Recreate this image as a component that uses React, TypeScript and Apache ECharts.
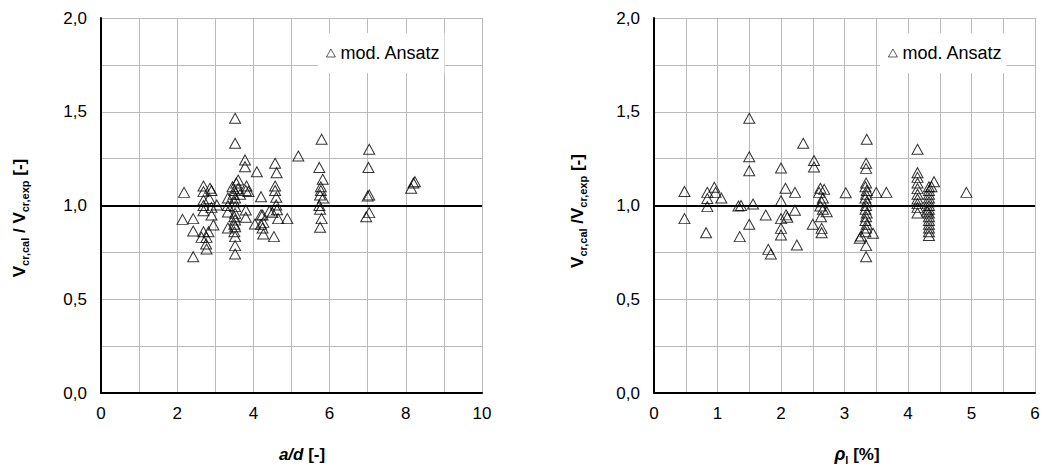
import React, { useEffect, useRef } from "react";
import * as echarts from "echarts";

// Left chart: a/d [-] vs Vcr,cal/Vcr,exp
const leftPoints: [number, number][] = [
  [2.18, 1.07], [2.14, 0.926], [2.42, 0.93], [2.42, 0.864], [2.42, 0.727],
  [2.69, 1.104], [2.69, 1.074], [2.86, 1.092], [2.9, 1.08], [2.69, 1.029], [2.84, 1.038],
  [2.69, 1.0], [2.69, 0.972], [3.04, 1.003], [2.9, 0.99], [2.9, 0.949], [2.95, 0.896],
  [2.69, 0.86], [2.82, 0.86], [2.77, 0.83], [2.76, 0.795], [2.77, 0.768], [2.64, 0.83],
  [3.33, 1.04], [3.33, 1.0], [3.33, 0.965], [3.33, 0.88],
  [3.52, 1.465], [3.52, 1.332], [3.45, 1.1], [3.5, 1.08], [3.55, 1.12], [3.48, 1.06],
  [3.52, 1.04], [3.5, 1.02], [3.52, 0.994], [3.52, 0.958], [3.5, 0.94], [3.52, 0.923],
  [3.5, 0.9], [3.52, 0.887], [3.5, 0.86], [3.52, 0.834], [3.52, 0.786], [3.52, 0.741],
  [3.6, 1.136], [3.6, 1.09], [3.65, 1.06],
  [3.78, 1.243], [3.78, 1.207], [3.82, 1.104], [3.8, 1.08], [3.87, 1.075], [3.8, 0.976], [3.8, 0.937],
  [4.09, 1.18], [4.04, 0.901], [4.2, 1.047], [4.2, 0.95], [4.2, 0.9], [4.26, 0.848],
  [4.57, 1.225], [4.61, 1.175], [4.57, 1.104], [4.57, 1.08], [4.6, 1.044], [4.6, 1.003],
  [4.62, 0.977], [4.5, 0.962], [4.42, 0.97], [4.65, 0.93], [4.89, 0.93], [4.24, 0.949],
  [4.26, 0.91], [4.24, 0.88], [4.54, 0.834],
  [5.18, 1.264],
  [5.73, 1.203], [5.82, 1.14], [5.77, 1.1], [5.75, 1.056], [5.83, 1.04], [5.73, 1.0],
  [5.75, 0.98], [5.79, 0.93], [5.75, 0.884], [5.79, 1.353], [5.77, 1.08],
  [7.04, 1.3], [7.02, 1.203], [7.04, 1.056], [7.0, 1.05], [7.04, 0.962], [6.96, 0.94],
  [8.24, 1.127], [8.2, 1.12], [8.14, 1.092],
];

// Right chart: rho_l [%] vs Vcr,cal/Vcr,exp
const rightPoints: [number, number][] = [
  [0.48, 1.075], [0.48, 0.93],
  [0.84, 1.07], [0.84, 1.037], [0.84, 0.994], [0.82, 0.855],
  [0.95, 1.097], [0.97, 1.07], [1.06, 1.04],
  [1.33, 0.997], [1.37, 1.0], [1.35, 0.834],
  [1.5, 1.465], [1.5, 1.26], [1.5, 1.185], [1.5, 0.9], [1.56, 1.008],
  [1.76, 0.949], [1.8, 0.766], [1.84, 0.741],
  [2.0, 1.2], [2.0, 1.025], [2.0, 0.93], [2.0, 0.878], [2.0, 0.843], [2.07, 1.092], [2.08, 0.95], [2.1, 0.937],
  [2.22, 1.07], [2.22, 0.975], [2.25, 0.789], [2.35, 1.332],
  [2.52, 1.24], [2.52, 1.205], [2.5, 0.9],
  [2.62, 1.092], [2.68, 1.086], [2.6, 1.07], [2.66, 1.04], [2.64, 1.02], [2.62, 0.997],
  [2.66, 0.98], [2.72, 0.967], [2.63, 0.94], [2.64, 0.878], [2.64, 0.855],
  [3.02, 1.068], [3.24, 0.825],
  [3.35, 1.353], [3.34, 1.225], [3.34, 1.198],
  [3.34, 1.12], [3.33, 1.1], [3.35, 1.08], [3.34, 1.06], [3.33, 1.04], [3.35, 1.02],
  [3.34, 1.0], [3.33, 0.98], [3.35, 0.96], [3.34, 0.94], [3.33, 0.92], [3.35, 0.9],
  [3.34, 0.88], [3.33, 0.86], [3.34, 0.786], [3.34, 0.727],
  [3.26, 0.837], [3.45, 0.852], [3.5, 1.07], [3.66, 1.07],
  [4.15, 1.3], [4.15, 1.175], [4.15, 1.15], [4.15, 1.12], [4.15, 1.09], [4.15, 1.06],
  [4.15, 1.035], [4.15, 1.01], [4.15, 0.99], [4.15, 0.96],
  [4.33, 1.1], [4.33, 1.08], [4.33, 1.06], [4.33, 1.04], [4.33, 1.02], [4.33, 1.0],
  [4.33, 0.98], [4.33, 0.96], [4.33, 0.94], [4.33, 0.92], [4.33, 0.9], [4.33, 0.88],
  [4.33, 0.86], [4.33, 0.84], [4.41, 1.127], [4.37, 1.1], [4.3, 0.97],
  [4.92, 1.07],
];

const seriesName = "mod. Ansatz";
const referenceValue = 1.0;

const FONT = "'Liberation Sans', Arial, Helvetica, sans-serif";
const GRID_COLOR = "#bababa";

function fmtComma(v: number): string {
  return v.toFixed(1).replace(".", ",");
}

export default function App() {
  const ref = useRef<HTMLDivElement>(null);

  useEffect(() => {
    document.body.style.margin = "0";
    if (!ref.current) return;
    const chart = echarts.init(ref.current, undefined, { renderer: "svg" });

    const yAxisBase = (gridIndex: number) => ({
      type: "value",
      gridIndex,
      min: 0,
      max: 2,
      interval: 0.5,
      axisLine: { show: true, lineStyle: { color: "#000", width: 2 } },
      axisTick: { show: false },
      minorTick: { show: false, splitNumber: 2 },
      splitLine: { show: true, lineStyle: { color: GRID_COLOR, width: 1 } },
      minorSplitLine: { show: true, lineStyle: { color: GRID_COLOR, width: 1 } },
      axisLabel: {
        color: "#000",
        fontSize: 17,
        fontFamily: FONT,
        margin: 14,
        formatter: (v: number) => fmtComma(v),
      },
    });

    const xAxisBase = (gridIndex: number, max: number, interval: number) => ({
      type: "value",
      gridIndex,
      min: 0,
      max,
      interval,
      axisLine: { show: true, onZero: false, lineStyle: { color: "#000", width: 2 } },
      axisTick: { show: false },
      minorTick: { show: false, splitNumber: 2 },
      splitLine: { show: true, lineStyle: { color: GRID_COLOR, width: 1 } },
      minorSplitLine: { show: true, lineStyle: { color: GRID_COLOR, width: 1 } },
      axisLabel: {
        color: "#000",
        fontSize: 17,
        fontFamily: FONT,
        margin: 12,
        formatter: (v: number) => String(v),
      },
    });

    const scatter = (idx: number, data: [number, number][]) => ({
      type: "scatter",
      name: seriesName,
      xAxisIndex: idx,
      yAxisIndex: idx,
      data,
      symbol: "triangle",
      symbolSize: [11, 10],
      itemStyle: { color: "rgba(255,255,255,0)", borderColor: "#000", borderWidth: 1 },
      markLine: {
        silent: true,
        symbol: ["none", "none"],
        label: { show: false },
        lineStyle: { color: "#000", width: 2, type: "solid" },
        data: [{ yAxis: referenceValue }],
      },
    });

    const legendBase = (left: number) => ({
      data: [seriesName],
      left,
      top: 33,
      orient: "horizontal",
      backgroundColor: "#ffffff",
      padding: [11, 4, 11, 8],
      itemWidth: 9,
      itemHeight: 8,
      itemGap: 0,
      selectedMode: false,
      itemStyle: { color: "rgba(255,255,255,0)", borderColor: "#000", borderWidth: 0.8 },
      textStyle: { color: "#000", fontSize: 18, fontFamily: FONT },
    });

    const yTitleRich = {
      v: { fontSize: 17, fontWeight: "bold", fontFamily: FONT, fill: "#000", lineHeight: 22, verticalAlign: "middle" },
      s: { fontSize: 11, fontWeight: "bold", fontFamily: FONT, fill: "#000", lineHeight: 12, verticalAlign: "bottom" },
    };

    const option: any = {
      animation: false,
      backgroundColor: "#ffffff",
      textStyle: { fontFamily: FONT },
      grid: [
        { left: 101, top: 18, width: 381, height: 375, containLabel: false },
        { left: 654, top: 18, width: 381, height: 375, containLabel: false },
      ],
      xAxis: [xAxisBase(0, 10, 2), xAxisBase(1, 6, 1)],
      yAxis: [yAxisBase(0), yAxisBase(1)],
      legend: [legendBase(318), legendBase(880)],
      series: [scatter(0, leftPoints), scatter(1, rightPoints)],
      graphic: [
        {
          type: "text",
          x: 19,
          y: 218,
          rotation: Math.PI / 2,
          style: {
            text: "{v|V}{s|cr,cal}{v| / V}{s|cr,exp}{v| [-]}",
            rich: yTitleRich,
            align: "center",
            verticalAlign: "middle",
            fill: "#000",
          },
        },
        {
          type: "text",
          x: 577,
          y: 211,
          rotation: Math.PI / 2,
          style: {
            text: "{v|V}{s|cr,cal}{v| /V}{s|cr,exp}{v| [-]}",
            rich: yTitleRich,
            align: "center",
            verticalAlign: "middle",
            fill: "#000",
          },
        },
        {
          type: "text",
          x: 302,
          y: 454,
          style: {
            text: "{i|a/d}{b| [-]}",
            rich: {
              i: { fontSize: 17, fontWeight: "bold", fontStyle: "italic", fontFamily: FONT, fill: "#000" },
              b: { fontSize: 17, fontWeight: "bold", fontFamily: FONT, fill: "#000" },
            },
            align: "center",
            verticalAlign: "middle",
            fill: "#000",
          },
        },
        {
          type: "text",
          x: 857,
          y: 454,
          style: {
            text: "{i|ρ}{s|l}{b| [%]}",
            rich: {
              i: { fontSize: 18, fontWeight: "bold", fontStyle: "italic", fontFamily: FONT, fill: "#000", lineHeight: 22, verticalAlign: "middle" },
              s: { fontSize: 11, fontWeight: "bold", fontFamily: FONT, fill: "#000", lineHeight: 12, verticalAlign: "bottom" },
              b: { fontSize: 17, fontWeight: "bold", fontFamily: FONT, fill: "#000", lineHeight: 22, verticalAlign: "middle" },
            },
            align: "center",
            verticalAlign: "middle",
            fill: "#000",
          },
        },
      ],
    };

    chart.setOption(option);
    return () => {
      chart.dispose();
    };
  }, []);

  return <div ref={ref} style={{ width: 1045, height: 468 }} />;
}
